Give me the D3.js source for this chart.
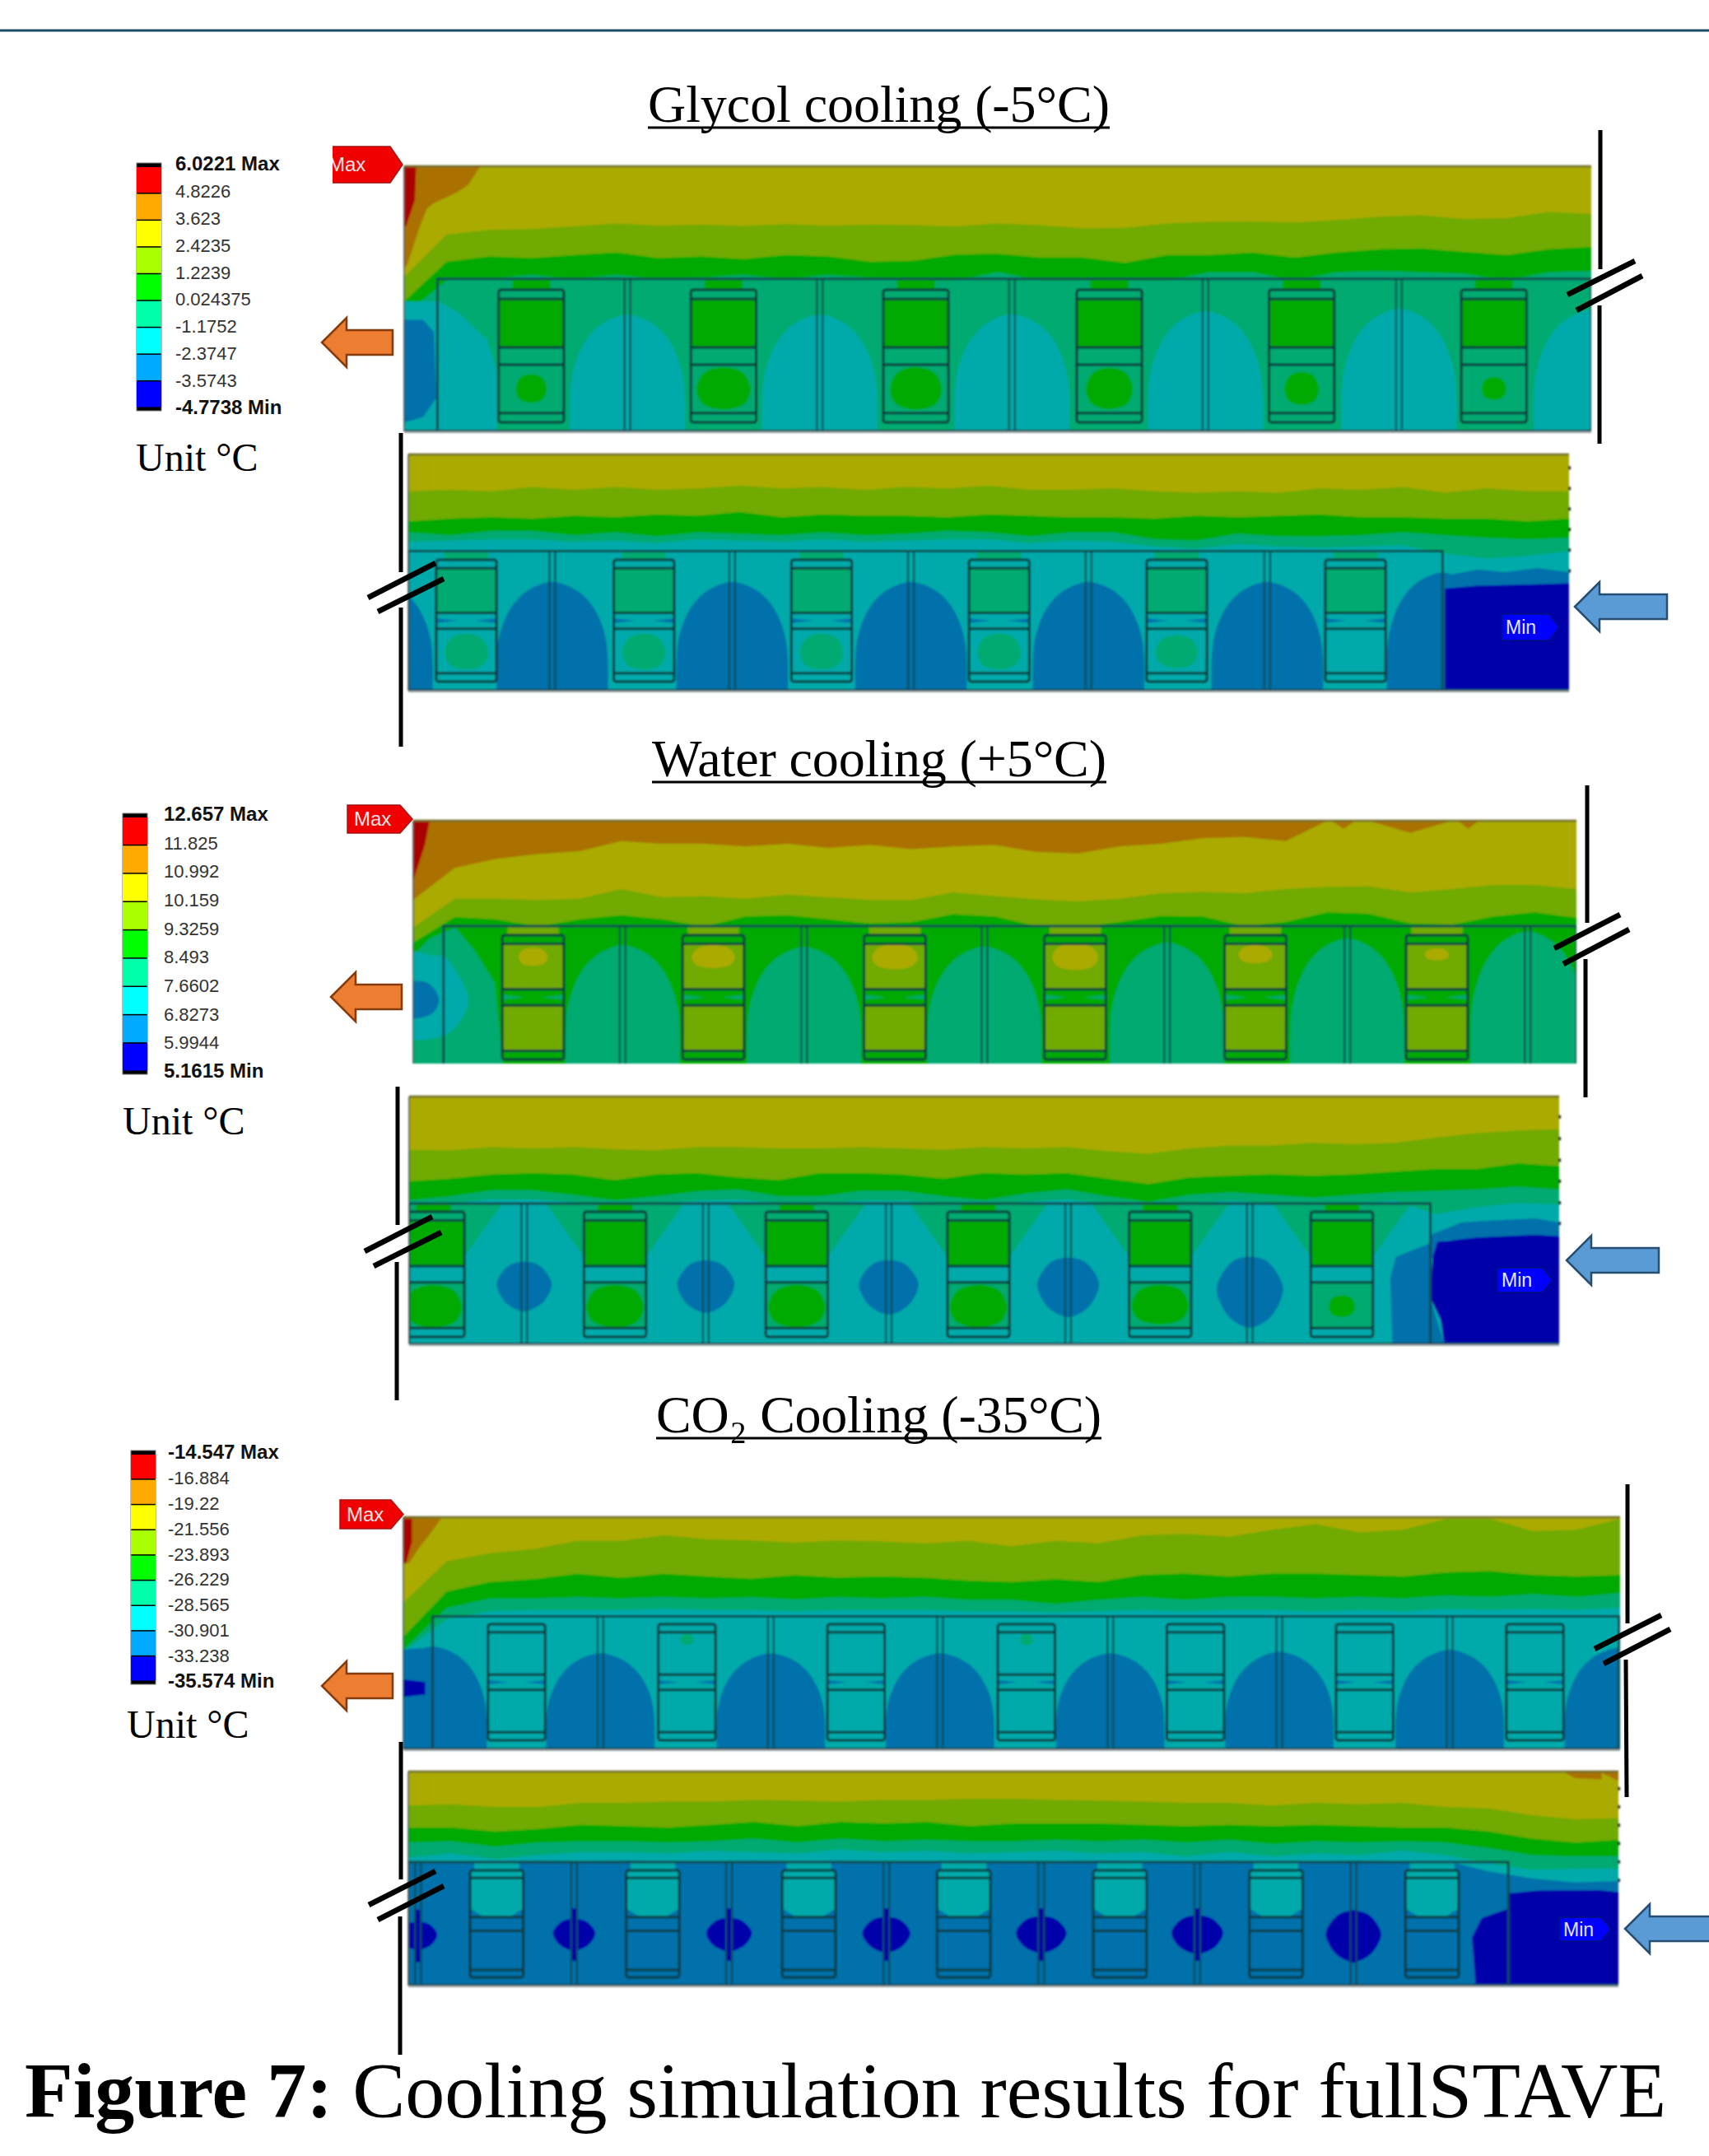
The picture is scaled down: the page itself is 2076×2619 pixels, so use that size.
<!DOCTYPE html>
<html>
<head>
<meta charset="utf-8">
<script src="https://cdn.jsdelivr.net/npm/d3@7"></script>
<style>
	html, body { margin: 0; padding: 0; background: #fff; }
	svg { display: block; }
	.serif { font-family: "Liberation Serif", serif; fill: #000; }
	.sans { font-family: "Liberation Sans", sans-serif; }
</style>
</head>
<body>
<div id="chart"></div>
<script>
// colour key, hottest first
const legendColours = ["#ff0000", "#ffaa00", "#ffff00", "#aaff00", "#00ff00", "#00ffaa", "#00ffff", "#00aaff", "#0000ff"]
const glycolTicks = ["6.0221 Max", "4.8226", "3.623", "2.4235", "1.2239", "0.024375", "-1.1752", "-2.3747", "-3.5743", "-4.7738 Min"]
const waterTicks = ["12.657 Max", "11.825", "10.992", "10.159", "9.3259", "8.493", "7.6602", "6.8273", "5.9944", "5.1615 Min"]
const co2Ticks = ["-14.547 Max", "-16.884", "-19.22", "-21.556", "-23.893", "-26.229", "-28.565", "-30.901", "-33.238", "-35.574 Min"]

// contour fronts: depth in % of panel height, 29 stations evenly along the stave
const glycolTopLime = [41.8,25.8,24,23.7,22.7,21.6,22.4,22,22.5,21.8,22.4,22,22.2,22.7,21.6,22.2,23.4,23.2,21.6,21,20.8,21.2,20.3,19,18.5,19.9,19.6,17.2,18]
const glycolTopGreen = [51,36,34,34.6,33.5,32.5,34.6,34,35,33.5,34,36,35.6,33.3,33,34.4,34.4,36.4,33.5,33.5,32.5,34.4,32.5,31.3,31,32.3,33.5,31.3,30.4]
const glycolTopSpring = [56,43,42.5,41,42.5,41,42.5,42,41,42.5,41,42,43,43,40,43,43,43,43,40,40,43,40,39.5,40,40.5,43,40,39.5]

const glycolBottomLime = [15.6,15,15.6,13.8,15,13.8,15,14.4,13.2,14.4,13.8,15,13.8,14.4,13.2,15,15,14.4,15.6,16.2,15.6,16.2,14.4,15,13.8,16.2,14.4,15.6,15.6]
const glycolBottomGreen = [28.3,27.2,26.6,27.2,26,26.6,25.4,26,24.3,26.6,25.4,26,26,26.6,25.4,26,26.6,26.6,27.2,26,26.6,26,25.4,26.6,26.6,27.2,27.2,28.3,27.2]
const glycolBottomSpring = [33,34.2,32.4,32.4,34.2,33,34.7,33,33.6,34.2,33,34.2,33.6,32.4,33,34.7,33,33,35.9,36.5,33.6,34.7,34.7,34.2,33,34.2,35.3,35.9,35.3]
const glycolBottomCyan = [37,36.5,36,36,37,36.5,37.5,36,36.5,37,36,37,36.5,36,36,37.5,36.5,37,39,40,38,39,39.5,39,38.5,42,44,43,41]

const waterTopYellow = [32.6,19.4,15.7,13.7,12.5,8.4,9.5,9.5,10.6,9.5,11.2,10,11.7,10.6,10,12.9,13.5,10.6,9.5,7.2,6.7,8.4,0,0,5,0,0,0,0]
const waterTopLime = [43.9,32.1,32.1,32.6,32.1,28.1,31.5,31,32.1,30.4,31.5,32.6,32.6,29.5,31,32.4,33.2,32.1,29.8,29.3,29.8,28.1,27.2,27,29.5,28.1,26.4,26.4,28.1]
const waterTopGreen = [50.2,39.7,40.6,43.6,40.6,38.9,40.6,43.6,39.4,38.9,40.6,42.3,41.7,38.5,39.4,43.4,43.9,41.7,39.2,39.4,43.4,41.7,37.7,38.3,42.3,42.8,39.4,37.7,40]

const waterBottomLime = [21.5,21.7,20.4,20.9,20.4,21.3,21.7,20.4,20.4,20.9,20.9,20.4,20.9,21.5,20.4,20.9,20.4,22,23.1,20.9,19.8,19.8,18.7,19.3,18.7,16.5,14.8,13.7,13.2]
const waterBottomGreen = [34.2,33.1,31.5,30.9,31.5,33.7,31.5,30.9,32.6,33.7,30.9,30.9,31.5,33.1,30.9,31.5,30.9,33.1,35.3,32.6,32,31.4,32,31.4,30.3,29.2,29.2,27,28.1]
const waterBottomSpring = [41.9,40.3,37.9,37.9,39.7,41.9,40.3,38.3,37.5,40.3,40.3,38.1,38.1,40.3,41.9,39.2,37.5,40.3,42.5,39.7,38.6,39.7,40.9,39.7,38.6,38.1,37.5,36.4,37.5]
const waterBottomCyan = [44,43,41.5,41.5,42.5,44,43,42,41.5,43,43,42,42,43,44,42.5,41.5,43,44,43,42,43,44,43,42,47.5,44.7,43,43.6]

const co2TopLime = [36.8,19,15.5,13.7,10.2,10.2,7.8,9.5,10,11,10,10.5,11.3,10.2,12.5,10.2,11.3,7.8,7.2,8.4,5.4,3,6.6,5.4,0.7,0.7,6,5.4,0.7]
const co2TopGreen = [51.5,32,27.9,26.7,24.4,26.1,24.4,25.5,26.5,25,26,25.5,26.1,27.3,27.9,26.7,27.9,24.9,24.3,25.5,24.3,24.3,24.9,25.5,23.8,23.2,24.9,25.5,24.9]
const co2TopSpring = [56.9,39.1,35,35,34.4,35,34.4,35,34.5,35.5,34.5,35,34.4,35.6,35.6,37.4,35.6,34.4,35.6,34.4,34.4,35,34.4,35,33.8,34.4,33.2,34.4,32.6]
const co2TopCyan = [58,44,40.5,40,40,40,39.5,40,40,40.5,40,40,40,40.5,40.5,41,40.5,40,40.5,40,40,40.5,40,40.5,39.5,40,39.5,40,39]

const co2BottomLime = [15.9,15.3,16.5,16.5,14.6,14.6,14,14,13.3,13.6,14,13.3,13.3,12.7,12.7,13.3,13.6,14,14.6,14.6,15.9,14.6,15.3,14.6,16.5,17.2,20.4,22.3,21.7]
const co2BottomGreen = [26.2,26.2,28,26.8,24.9,25.5,26.2,24.9,23.6,25.5,23.6,24.2,23.6,25.5,24.2,24.2,24.2,24.9,25.5,24.9,25.5,24.9,25.5,26.2,26.2,28,31.3,33.2,31.9]
const co2BottomSpring = [33.2,32.6,35.1,33.2,32.6,32.6,33.2,32.6,31.3,33.2,31.3,32.6,31.9,32.6,32.6,31.9,32.6,31.9,33.2,31.9,33.8,32.6,33.2,32.6,33.2,35.8,39,39.6,39.6]
const co2BottomCyan = [40.2,38.3,40.9,39,37.7,37.7,38.3,37,37.7,38.3,36.4,37.7,37,38.3,37.7,37,38.3,37.7,39.6,37.7,39.6,38.3,39,37,39,42.8,46,45.4,45.4]
const co2BottomAzure = [42,42,42,41.5,42,41.5,42,42,41.5,42,41.5,42,42,41.5,42,42,41.5,42,42,41.5,42,42,41.5,42,41.8,46.6,49.9,51.8,51.2]

// module dividers and chip centres, % of panel length
const glycolTopEdges = [18.8,35,51.2,67.5,83.8]
const glycolTopChips = [10.7,26.9,43.1,59.4,75.6,91.8]
const glycolBottomEdges = [12.4,27.9,43.3,58.6,74]
const glycolBottomChips = [5,20.3,35.6,50.9,66.2,81.6]
const waterTopEdges = [18,33.6,49.1,64.8,80.3,95.8]
const waterTopChips = [10.3,25.8,41.4,56.9,72.4,88]
const waterBottomEdges = [10,25.8,41.7,57.3,73.1]
const waterBottomChips = [2.1,17.9,33.7,49.5,65.3,81.1]
const co2TopEdges = [16.2,30.2,44.1,58.1,72,86]
const co2TopChips = [9.3,23.3,37.2,51.2,65.1,79,93]
const co2BottomEdges = [0.8,13.7,26.5,39.5,52.3,65.2,78.1]
const co2BottomChips = [7.3,20.2,33.1,45.9,58.8,71.7,84.6]

// cold domes over the dividers: [centre %, apex depth %]
const glycolTopDomes = [[18.8,56],[35,56],[51.2,55.8],[67.5,54.7],[83.8,53.7],[100,54.2]]
const glycolBottomDomes = [[-2.7,53.9],[12.4,53.9],[27.9,53.9],[43.3,53.9],[58.6,53.9],[74,53.9],[89.1,50]]
const waterTopDomes = [[18,51.3],[33.6,52],[49.1,51.9],[64.8,50.2],[80.3,48.5],[95.8,45.6]]
const co2TopDomes = [[2.4,55.7],[16.2,58.6],[30.2,58.6],[44.1,58.6],[58.1,58.6],[72,58],[86,57.1],[99.9,56.3]]

// hot or cold spots on the chips: [chip index, centre depth %, half length %, half depth %]
const glycolTopSpots = [[0,83.8,1.25,5.4],[1,83.8,2.2,8],[2,83.8,2.1,8],[3,83.8,1.9,7.8],[4,83.8,1.4,6.2],[5,83.8,1,4.3]]
const glycolBottomSpots = [[0,83.5,1.8,7.6],[1,83.5,1.8,7.6],[2,83.5,1.8,7.6],[3,83.5,1.8,7.6],[4,83.5,1.75,7]]
const waterTopSpots = [[0,56,1.2,3.7],[1,56,1.8,4.7],[2,56,1.9,5.1],[3,56,1.9,5.4],[4,55,1.4,3.7],[5,55,1,2.5]]
const waterBottomSpots = [[0,84.6,2.4,8.6],[1,84.6,2.4,8.6],[2,84.6,2.4,8.6],[3,84.6,2.4,8.6],[4,84,2.4,8],[5,84.6,1.1,4.4]]
const co2TopSpots = [[1,52.7,0.5,2.5],[3,52.7,0.5,2.5]]

// cold pockets around the dividers: [centre %, depth %, half length %, half depth %]
const waterBottomPockets = [[10,76.7,2.4,10],[25.8,76.7,2.5,10.6],[41.7,77,2.6,11],[57.3,77,2.7,12],[73.1,79,2.9,14.3]]
const co2BottomPockets = [[0.8,76.8,1.6,6.6],[13.7,76.2,1.76,7.4],[26.5,76.2,1.9,7.8],[39.5,76.2,2,8.3],[52.3,76.2,2.1,8.6],[65.2,76.2,2.15,9],[78.1,77,2.3,11.9]]

// loose contour patches: [colour level, [[x %, depth %], ...], rounded]
const glycolTopPatches = [
	[1, [[0,0],[6.4,0],[5.4,7.1],[4.3,10.2],[2.5,13.9],[1.9,16],[1.2,24.2],[0.6,32.5],[0.2,37.7],[0,38]]],
	[0, [[0,0],[1,0.4],[0.9,12.8],[0.2,22.1],[0,23.2]]],
	[6, [[0,51],[2.9,51],[4.6,55.3],[7,65.6],[7.8,77],[7.8,100],[0,100]]],
	[7, [[0,57.9],[1.6,57.9],[2.5,62.5],[2.7,87.4],[1.6,94.6],[0,96.7]]]
]
const glycolBottomPatches = [
	[7, [[89.1,51.6],[92.1,48.7],[94.5,49.8],[97.3,48.1],[100,49.8],[100,100],[89.1,100]]],
	[8, [[89.3,56.8],[92.1,55.6],[97.3,55],[100,54.5],[100,100],[89.3,100]]]
]
const waterTopPatches = [
	[0, [[0,0],[1.4,0],[1,10],[0,24.7]]],
	[1, [[78.9,0],[81,0],[80,3.3]]],
	[1, [[89.8,0],[91.6,0],[90.7,3.3]]],
	[5, [[0,55.5],[1.4,48.5],[3.6,43.9],[5.2,53],[7,66.5],[7.7,100],[0,100]]],
	[6, [[-1,56.4],[1.7,55.5],[3,57.5],[4.7,72.2],[3.9,83.5],[2.1,89.2],[-1,86.9]], true],
	[7, [[-1,68.2],[1.1,66.5],[2.2,73.3],[1.4,80],[-1,80.7]], true]
]
const waterBottomPatches = [
	[7, [[85.5,100],[85.3,73.5],[85.8,64.7],[88.8,59.1],[88.8,55.8],[91.5,50.8],[92.9,50.3],[97.9,49.2],[100,50.8],[100,56.4],[90,58],[88.8,66],[88.8,81.3],[90,100]]],
	[8, [[89.4,58.6],[92.9,56.9],[97.9,55.8],[100,56.4],[100,100],[90,100],[89.7,90.2],[88.8,81.3],[89,64.7]]]
]
const co2TopPatches = [
	[1, [[0,0],[3.1,0.6],[2.2,7.2],[1.3,13.1],[0.5,19.6],[0,20]]],
	[0, [[0,0.6],[0.7,0.6],[0.7,10.8],[0.2,20.2],[0,19]]],
	[7, [[0,57],[2.4,56],[2.4,100],[0,100]]],
	[8, [[0,69.9],[1.8,71],[1.8,76.4],[0,77.5]]]
]
const co2BottomPatches = [
	[1, [[95.4,0],[100,0],[100,4.4],[98.6,0.5],[98.6,3.7],[96.4,3.1]]],
	[8, [[90.9,56.9],[93.4,55.6],[98.4,55.4],[100,56.3],[100,100],[88.2,100],[87.9,77.4],[88.7,68.5],[90.9,64]]]
]

// little marks down the cut end of the lower panels, depth %
const glycolBottomRim = [5.7,14.4,23.1,31.8,40.5,49.3]
const waterBottomRim = [8.2,17,25.7,34.2,42.9,51.2]
const co2BottomRim = [8,16.5,25.1,33.6,42.2,50.8]

// shared shapes, in fractions of a dome, pocket, spot or chip
const domeProfile = [[-1,0],[-1,0.25],[-0.97,0.45],[-0.88,0.62],[-0.72,0.78],[-0.5,0.9],[-0.25,0.97],[0,1],[0.25,0.97],[0.5,0.9],[0.72,0.78],[0.88,0.62],[0.97,0.45],[1,0.25],[1,0]]
const pocketProfile = [[0,-1],[0.55,-0.85],[0.95,-0.3],[0.95,0.15],[0.6,0.72],[0,1],[-0.6,0.72],[-0.95,0.15],[-0.95,-0.3],[-0.55,-0.85]]
const spotProfile = [[0,-1],[0.7,-0.78],[1,-0.2],[1,0.3],[0.72,0.8],[0,1],[-0.72,0.8],[-1,0.3],[-1,-0.2],[-0.7,-0.78]]
const chipBreaks = [0,0.07,0.435,0.565,0.93,1]

const fieldColours = legendColours.map(c=>{
	let k = d3.rgb(c)
	return d3.rgb(k.r*2/3, k.g*2/3, k.b*2/3).formatHex()
})

const panels = [
	{id:"g1", left:491, top:202, width:1442, height:322, base:2, frame:[2.8,100,42.5], chipTop:46.6, chipBottom:96.6, chipWidth:5.5,
		fronts:[[3,glycolTopLime],[4,glycolTopGreen],[5,glycolTopSpring]], edges:glycolTopEdges, chips:glycolTopChips,
		domes:glycolTopDomes, domeLevel:6, domeHalf:4.85, patches:glycolTopPatches,
		spots:glycolTopSpots, spotLevel:4, segments:[5,4,5,5,5], plume:[4,1.6]},
	{id:"g2", left:496, top:552, width:1410, height:287, base:2, frame:[0,89.1,40.9], chipTop:44.6, chipBottom:96.2, chipWidth:5.2,
		fronts:[[3,glycolBottomLime],[4,glycolBottomGreen],[5,glycolBottomSpring],[6,glycolBottomCyan]], edges:glycolBottomEdges, chips:glycolBottomChips,
		domes:glycolBottomDomes, domeLevel:7, domeHalf:4.8, patches:glycolBottomPatches, rim:glycolBottomRim,
		spots:glycolBottomSpots, spotLevel:5, segments:[6,5,6,6,6], plume:[5,1.9], wedge:7},
	{id:"w1", left:502, top:997, width:1413, height:295, base:1, frame:[2.6,100,43.4], chipTop:47.1, chipBottom:98.3, chipWidth:5.3, openBottom:true,
		fronts:[[2,waterTopYellow],[3,waterTopLime],[4,waterTopGreen]], edges:waterTopEdges, chips:waterTopChips,
		domes:waterTopDomes, domeLevel:5, domeHalf:4.9, patches:waterTopPatches,
		spots:waterTopSpots, spotLevel:2, segments:[4,3,4,3,4], plume:[3,2.2], wedge:5},
	{id:"w2", left:497, top:1332, width:1397, height:301, base:2, frame:[0,88.8,43.2], chipTop:46.5, chipBottom:97, chipWidth:5.4,
		fronts:[[3,waterBottomLime],[4,waterBottomGreen],[5,waterBottomSpring],[6,waterBottomCyan]], edges:waterBottomEdges, chips:waterBottomChips,
		funnel:[5,6,64.7], pockets:waterBottomPockets, pocketLevel:7, patches:waterBottomPatches, rim:waterBottomRim,
		spots:waterBottomSpots, spotLevel:4, segments:[5,4,6,5,6], plume:[4,1.5]},
	{id:"c1", left:490, top:1843, width:1478, height:282, base:2, frame:[2.4,99.9,42.7], chipTop:46.1, chipBottom:96.1, chipWidth:4.7,
		fronts:[[3,co2TopLime],[4,co2TopGreen],[5,co2TopSpring],[6,co2TopCyan]], edges:co2TopEdges, chips:co2TopChips,
		domes:co2TopDomes, domeLevel:7, domeHalf:4.45, patches:co2TopPatches,
		spots:co2TopSpots, spotLevel:5, segments:[6,6,6,6,6], wedge:7},
	{id:"c2", left:496, top:2152, width:1470, height:260, base:2, frame:[0,90.9,42.3], chipTop:46.2, chipBottom:96.2, chipWidth:4.4,
		fronts:[[3,co2BottomLime],[4,co2BottomGreen],[5,co2BottomSpring],[6,co2BottomCyan],[7,co2BottomAzure]], edges:co2BottomEdges, chips:co2BottomChips,
		pockets:co2BottomPockets, pocketLevel:8, pocketSpike:12.3, patches:co2BottomPatches, rim:co2BottomRim,
		segments:[6,6,7,7,7], plume:[6,1.85], bowl:7}
]

const legends = [
	{ticks:glycolTicks, barLeft:166, barTop:202, barBottom:495, labelLeft:213, tickTop:199, tickBottom:495, unitLeft:165, unitBase:572},
	{ticks:waterTicks, barLeft:149, barTop:992, barBottom:1301, labelLeft:199, tickTop:989, tickBottom:1301, unitLeft:149, unitBase:1378},
	{ticks:co2Ticks, barLeft:159, barTop:1766, barBottom:2042, labelLeft:204, tickTop:1764, tickBottom:2042, unitLeft:154, unitBase:2111}
]

const titles = [
	{text:"Glycol cooling (-5°C)", x:787, base:148, rule:[787,1348,155]},
	{text:"Water cooling (+5°C)", x:792, base:943, rule:[792,1344,950]},
	{text:"CO₂ Cooling (-35°C)", x:797, base:1740, rule:[797,1338,1747]}
]

const maxTags = [{x:[371,489], y:[178,222], text:399, clip:404}, {x:[422,501], y:[978,1012], text:430}, {x:[413,490], y:[1822,1857], text:421}]
const minTags = [{x:[1824,1894], y:[746,778]}, {x:[1819,1886], y:[1540,1570]}, {x:[1894,1957], y:[2329,2358]}]
const heatArrows = [[391,416],[402,1211],[391,2048]]
const coldArrows = [[1913,737],[1903,1531],[1974,2343]]

// stave break marks: [x1,y1,x2,y2]
const breakBars = [[1944,158,1944,327],[1943,371,1943,539],[487,526,487,695],[487,738,487,907],[1928,954,1928,1121],[1926,1165,1926,1333],[483,1320,483,1488],[482,1533,482,1701],[1977,1803,1977,1972],[1975,2016,1976,2183],[487,2116,487,2283],[486,2328,486,2496]]
const breakSlashes = [[1904,358,1986,317],[1915,377,1995,335],[447,726,529,684],[459,743,539,703],[1888,1152,1968,1111],[1899,1171,1979,1129],[443,1520,525,1478],[454,1538,536,1497],[1937,2003,2018,1962],[1948,2021,2029,1979],[448,2314,529,2273],[459,2332,539,2291]]

const svg = d3.select("#chart").append("svg")
	.attr("width",2076)
	.attr("height",2619)
	.attr("viewBox","0 0 2076 2619")
const defs = svg.append("defs")
defs.append("filter").attr("id","soft").attr("x","-2%").attr("y","-2%").attr("width","104%").attr("height","104%")
	.append("feGaussianBlur").attr("stdDeviation",0.8)

svg.append("line")
	.attr("x1",0).attr("x2",2076).attr("y1",37).attr("y2",37)
	.attr("stroke","#1c4a68").attr("stroke-width",3)

function drawPanel(p){
	let x = d3.scaleLinear().domain([0,100]).range([p.left,p.left+p.width])
	let y = d3.scaleLinear().domain([0,100]).range([p.top,p.top+p.height])
	defs.append("clipPath").attr("id","clip-"+p.id)
		.append("rect").attr("x",x(0)).attr("y",y(0)).attr("width",p.width).attr("height",p.height)
	let soft = svg.append("g").attr("filter","url(#soft)")
	let g = soft.append("g").attr("clip-path",`url(#clip-${p.id})`)
	let shape = d3.line().x(d=>x(d[0])).y(d=>y(d[1]))
	let roundShape = d3.line().x(d=>x(d[0])).y(d=>y(d[1])).curve(d3.curveCardinalClosed)
	let chipPx = x(p.chipWidth)-x(0)

	g.append("rect").attr("x",x(0)).attr("y",y(0)).attr("width",p.width).attr("height",p.height)
		.attr("fill",fieldColours[p.base])

	let front = d3.area()
		.x((d,i,all)=>x(i*100/(all.length-1)))
		.y0(y(100))
		.y1(d=>y(d))
	g.selectAll(".front").data(p.fronts).join("path")
		.attr("class","front")
		.attr("fill",d=>fieldColours[d[0]])
		.attr("d",d=>front(d[1]))

	if(p.funnel){
		let [level,half,end] = p.funnel
		g.selectAll(".funnel").data(p.chips).join("path")
			.attr("class","funnel")
			.attr("fill",fieldColours[level])
			.attr("d",c=>shape([[c-half,p.frame[2]],[c+half,p.frame[2]],[c+p.chipWidth/2,end],[c-p.chipWidth/2,end]])+"Z")
	}

	if(p.plume){
		let [level,half] = p.plume
		g.selectAll(".plume").data(p.chips).join("rect")
			.attr("class","plume")
			.attr("fill",fieldColours[level])
			.attr("x",c=>x(c-half)).attr("width",x(half*2)-x(0))
			.attr("y",y(p.frame[2])).attr("height",y(p.chipTop)-y(p.frame[2]))
	}

	if(p.domes){
		let dome = d3.line().curve(d3.curveCatmullRom)
		g.selectAll(".dome").data(p.domes).join("path")
			.attr("class","dome")
			.attr("fill",fieldColours[p.domeLevel])
			.attr("d",d=>dome(domeProfile.map(q=>[x(d[0]+q[0]*p.domeHalf),y(100-(100-d[1])*q[1])])))
	}

	if(p.pockets){
		g.selectAll(".pocket").data(p.pockets).join("path")
			.attr("class","pocket")
			.attr("fill",fieldColours[p.pocketLevel])
			.attr("d",d=>roundShape(pocketProfile.map(q=>[d[0]+q[0]*d[2],d[1]+q[1]*d[3]])))
		if(p.pocketSpike){
			g.selectAll(".spike").data(p.pockets).join("line")
				.attr("class","spike")
				.attr("stroke",fieldColours[p.pocketLevel]).attr("stroke-width",8)
				.attr("x1",d=>x(d[0])).attr("x2",d=>x(d[0]))
				.attr("y1",d=>y(d[1]-p.pocketSpike)).attr("y2",d=>y(d[1]+p.pocketSpike))
		}
	}

	g.selectAll(".patch").data(p.patches).join("path")
		.attr("class","patch")
		.attr("fill",d=>fieldColours[d[0]])
		.attr("d",d=>d[2] ? roundShape(d[1]) : shape(d[1])+"Z")

	// chips
	let chipY = d3.scaleLinear().domain([0,1]).range([y(p.chipTop),y(p.chipBottom)])
	p.chips.forEach((c,ci)=>{
		let cx = x(c)
		let chip = g.append("g")
		chip.selectAll("rect").data(p.segments).join("rect")
			.attr("x",cx-chipPx/2).attr("width",chipPx)
			.attr("y",(d,i)=>chipY(chipBreaks[i]))
			.attr("height",(d,i)=>chipY(chipBreaks[i+1])-chipY(chipBreaks[i]))
			.attr("fill",d=>fieldColours[d])
		if(p.bowl){
			let by = chipY(chipBreaks[2]), dy = chipY(chipBreaks[2])-chipY(chipBreaks[1])
			;[-1,1].forEach(side=>{
				chip.append("path").attr("fill",fieldColours[p.bowl])
					.attr("d",d3.line()([[cx+side*chipPx/2,by-dy*0.22],[cx+side*chipPx/2,by],[cx+side*chipPx*0.24,by]])+"Z")
			})
		}
		if(p.wedge){
			let my = chipY(0.5), dy = (chipY(chipBreaks[3])-chipY(chipBreaks[2]))*0.14
			;[-1,1].forEach(side=>{
				chip.append("path").attr("fill",fieldColours[p.wedge])
					.attr("d",d3.line()([[cx+side*chipPx/2,my-dy],[cx+side*chipPx*0.14,my],[cx+side*chipPx/2,my+dy]])+"Z")
			})
		}
		if(p.spots){
			p.spots.filter(s=>s[0]==ci).forEach(s=>{
				chip.append("path").attr("fill",fieldColours[p.spotLevel])
					.attr("d",roundShape(spotProfile.map(q=>[c+q[0]*s[2],s[1]+q[1]*s[3]])))
			})
		}
		chip.append("rect")
			.attr("x",cx-chipPx/2).attr("width",chipPx)
			.attr("y",chipY(0)).attr("height",chipY(1)-chipY(0))
			.attr("rx",3)
			.attr("fill","none").attr("stroke","#0c3a3c").attr("stroke-width",3)
		chip.selectAll("line").data(chipBreaks.slice(1,5)).join("line")
			.attr("x1",cx-chipPx/2).attr("x2",cx+chipPx/2)
			.attr("y1",d=>chipY(d)).attr("y2",d=>chipY(d))
			.attr("stroke","#0c3a3c").attr("stroke-width",3)
	})

	// module frame
	let [fl,fr,ft] = p.frame
	g.append("path")
		.attr("d",shape([[fl,100],[fl,ft],[fr,ft],[fr,100]]))
		.attr("fill","none").attr("stroke","#0e4a50").attr("stroke-width",3)
	p.edges.forEach(e=>{
		;[-3.5,3.5].forEach(off=>{
			g.append("line")
				.attr("x1",x(e)+off).attr("x2",x(e)+off)
				.attr("y1",y(ft)).attr("y2",y(100))
				.attr("stroke","#0e4a50").attr("stroke-width",2.2)
		})
	})
	if(!p.openBottom){
		g.append("line").attr("x1",x(0)).attr("x2",x(100)).attr("y1",y(100)-1).attr("y2",y(100)-1)
			.attr("stroke","#0e4a50").attr("stroke-width",2)
		soft.append("line").attr("x1",x(0)).attr("x2",x(100)).attr("y1",y(100)+1).attr("y2",y(100)+1)
			.attr("stroke","#9aa6a8").attr("stroke-width",2)
	}

	// skin lines
	soft.append("line").attr("x1",x(0)).attr("x2",x(100)).attr("y1",y(0)).attr("y2",y(0))
		.attr("stroke","#6b6a28").attr("stroke-width",2.5)
	soft.append("line").attr("x1",x(0)).attr("x2",x(0)).attr("y1",y(0)).attr("y2",y(100))
		.attr("stroke","#35504a").attr("stroke-width",1.5)
	if(p.rim){
		soft.selectAll(".rim").data(p.rim).join("line")
			.attr("class","rim")
			.attr("x1",x(100)-1).attr("x2",x(100)+2)
			.attr("y1",d=>y(d)).attr("y2",d=>y(d))
			.attr("stroke","#222").attr("stroke-width",4)
	}
}
panels.forEach(drawPanel)

// colour keys
legends.forEach(l=>{
	let band = d3.scaleBand().domain(legendColours).range([l.barTop,l.barBottom])
	let tick = d3.scalePoint().domain(l.ticks).range([l.tickTop,l.tickBottom])
	let g = svg.append("g")
	g.append("rect").attr("x",l.barLeft).attr("width",30)
		.attr("y",l.barTop-4).attr("height",l.barBottom-l.barTop+8)
		.attr("fill","#000").attr("stroke","#777").attr("stroke-width",1)
	g.selectAll(".swatch").data(legendColours).join("rect")
		.attr("class","swatch")
		.attr("x",l.barLeft).attr("width",30)
		.attr("y",d=>band(d)+1).attr("height",band.bandwidth()-1.5)
		.attr("fill",d=>d)
	g.selectAll("text").data(l.ticks).join("text")
		.attr("class","sans")
		.attr("x",l.labelLeft)
		.attr("y",d=>tick(d)+8)
		.attr("font-size",d=>/M/.test(d)?24:22)
		.attr("font-weight",d=>/M/.test(d)?"bold":"normal")
		.attr("fill",d=>/M/.test(d)?"#111":"#333")
		.text(d=>d)
	svg.append("text").attr("class","serif")
		.attr("x",l.unitLeft).attr("y",l.unitBase)
		.attr("font-size",48)
		.text("Unit °C")
})

// headings
titles.forEach(t=>{
	svg.append("text").attr("class","serif")
		.attr("x",t.x).attr("y",t.base)
		.attr("font-size",64)
		.attr("textLength",t.rule[1]-t.rule[0])
		.text(t.text)
	svg.append("line")
		.attr("x1",t.rule[0]).attr("x2",t.rule[1]).attr("y1",t.rule[2]).attr("y2",t.rule[2])
		.attr("stroke","#000").attr("stroke-width",3)
})

function tagPath(x0,x1,y0,y1,nose){
	let mid = (y0+y1)/2
	return d3.line()([[x0,y0],[x1-nose,y0],[x1,mid],[x1-nose,y1],[x0,y1]])+"Z"
}
maxTags.forEach(t=>{
	let g = svg.append("g")
	if(t.clip){
		defs.append("clipPath").attr("id","tag-clip").append("rect").attr("x",t.clip).attr("y",t.y[0]-5).attr("width",200).attr("height",60)
		g.attr("clip-path","url(#tag-clip)")
	}
	g.append("path").attr("d",tagPath(t.x[0],t.x[1],t.y[0],t.y[1],15))
		.attr("fill","#f00000").attr("stroke","#a81010").attr("stroke-width",1.5)
	g.append("text").attr("class","sans").attr("x",t.text).attr("y",(t.y[0]+t.y[1])/2+8)
		.attr("font-size",24).attr("fill","#f4e4e4").text("Max")
})
minTags.forEach(t=>{
	svg.append("path").attr("d",tagPath(t.x[0],t.x[1],t.y[0],t.y[1],12))
		.attr("fill","#0000ff").attr("stroke","#00107a").attr("stroke-width",1.5)
	svg.append("text").attr("class","sans").attr("x",t.x[0]+5).attr("y",(t.y[0]+t.y[1])/2+8)
		.attr("font-size",23).attr("fill","#e4e8ff").text("Min")
})

function arrow(tip,length,fill,stroke){
	let [tx,ty] = tip
	let pts = [[tx,ty],[tx+30,ty-30],[tx+30,ty-15],[tx+length,ty-15],[tx+length,ty+15],[tx+30,ty+15],[tx+30,ty+30]]
	svg.append("path").attr("d",d3.line()(pts)+"Z")
		.attr("fill",fill).attr("stroke",stroke).attr("stroke-width",2.5)
}
heatArrows.forEach(a=>arrow(a,86,"#ed7d31","#843c0c"))
coldArrows.forEach(a=>arrow(a,112,"#5b9bd5","#264e72"))

svg.selectAll(".bar").data(breakBars).join("line")
	.attr("class","bar")
	.attr("x1",d=>d[0]).attr("y1",d=>d[1]).attr("x2",d=>d[2]).attr("y2",d=>d[3])
	.attr("stroke","#000").attr("stroke-width",5)
svg.selectAll(".slash").data(breakSlashes).join("line")
	.attr("class","slash")
	.attr("x1",d=>d[0]).attr("y1",d=>d[1]).attr("x2",d=>d[2]).attr("y2",d=>d[3])
	.attr("stroke","#000").attr("stroke-width",6.5)

// caption
let caption = svg.append("text").attr("class","serif").attr("x",30).attr("y",2572).attr("font-size",96)
caption.append("tspan").attr("font-weight","bold").text("Figure 7:")
caption.append("tspan").text(" Cooling simulation results for fullSTAVE")
</script>
</body>
</html>
